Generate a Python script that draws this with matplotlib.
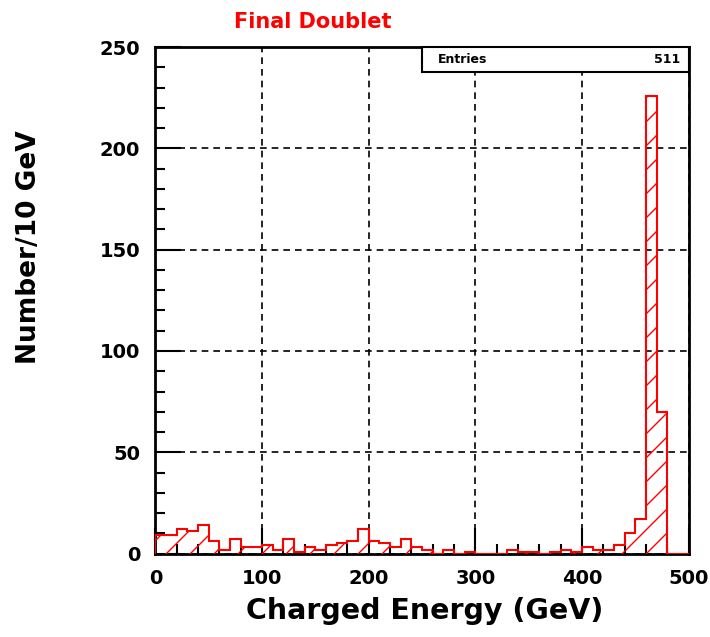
import numpy as np
import matplotlib.pyplot as plt
from matplotlib.patches import Rectangle
from matplotlib.ticker import MultipleLocator

# 10 GeV bins, 0-500 GeV
edges = np.arange(0, 510, 10)
counts = [9, 9, 12, 11, 14, 6, 2, 7, 3, 3,
          4, 2, 7, 1, 3, 2, 4, 5, 6, 12,
          6, 5, 3, 7, 3, 2, 0, 2, 0, 1,
          0, 0, 0, 2, 1, 1, 0, 1, 2, 1,
          3, 2, 2, 4, 10, 17, 226, 70, 0, 0]
entries = 511
title = "Final Doublet"
xlabel = "Charged Energy (GeV)"
ylabel = "Number/10 GeV"

# drawn at 72 dpi so the hatch spacing comes out close to the original;
# k converts the sizes picked for 100 dpi
DPI = 72
k = 100 / DPI

plt.rcParams['hatch.linewidth'] = 1.0 * k
fig = plt.figure(figsize=(710 / DPI, 637 / DPI), dpi=DPI)
ax = fig.add_axes([0.219, 0.131, 0.751, 0.795])

ax.stairs(counts, edges, fill=True, facecolor='none', edgecolor='red',
          hatch='/', linewidth=1.5 * k, zorder=3)

ax.set_xlim(0, 500)
ax.set_ylim(0, 250)
ax.xaxis.set_major_locator(MultipleLocator(100))
ax.xaxis.set_minor_locator(MultipleLocator(20))
ax.yaxis.set_major_locator(MultipleLocator(50))
ax.yaxis.set_minor_locator(MultipleLocator(10))
ax.grid(True, which='major', color='black', linestyle=(0, (4, 3)), linewidth=1.2 * k)
ax.set_axisbelow(True)
ax.tick_params(which='major', direction='in', length=19 * k, width=1.5 * k,
               labelsize=14 * k, pad=11 * k)
ax.tick_params(which='minor', direction='in', length=7 * k, width=1.5 * k)
for lab in ax.get_xticklabels() + ax.get_yticklabels():
    lab.set_fontweight('bold')
for s in ax.spines.values():
    s.set_linewidth(2 * k)

ax.set_xlabel(xlabel, fontsize=20.5 * k, fontweight='bold')
ax.xaxis.set_label_coords(0.505, -0.086)
ax.set_ylabel(ylabel, fontsize=19 * k, fontweight='bold')
ax.yaxis.set_label_coords(-0.213, 0.605)
fig.text(0.44, 0.965, title, color='red', fontsize=15 * k, fontweight='bold',
         ha='center', va='center')

# stats box
ax.add_patch(Rectangle((0.499, 0.951), 0.501, 0.049, transform=ax.transAxes,
                       facecolor='white', edgecolor='black', linewidth=1.5 * k,
                       zorder=4, clip_on=False))
ax.text(0.53, 0.9755, "Entries", transform=ax.transAxes, fontsize=9 * k,
        fontweight='bold', va='center', ha='left', zorder=5)
ax.text(0.985, 0.9755, str(entries), transform=ax.transAxes, fontsize=9 * k,
        fontweight='bold', va='center', ha='right', zorder=5)

fig.savefig('out.png', dpi=DPI)
